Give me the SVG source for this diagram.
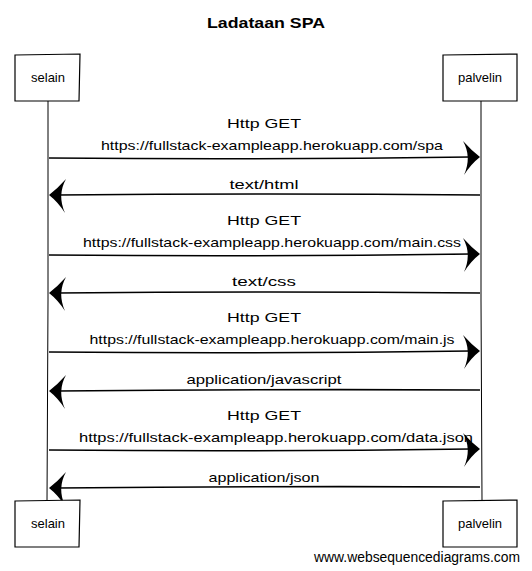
<svg xmlns="http://www.w3.org/2000/svg" width="532" height="571" viewBox="0 0 532 571">
<defs>
<style>
.box{fill:#fff;stroke:#000;stroke-width:1.2}
.life{fill:none;stroke:#000;stroke-width:1}
.msg{fill:none;stroke:#000;stroke-width:1.6}
.head{fill:#000;stroke:none}
.t{font-family:"Liberation Sans",Arial,sans-serif;font-size:13px;fill:#000;text-anchor:middle}
.title{font-family:"Liberation Sans",Arial,sans-serif;font-size:15px;font-weight:bold;fill:#000;text-anchor:middle}
.wm{font-family:"Liberation Sans",Arial,sans-serif;font-size:14px;fill:#000;text-anchor:end}
</style>
<path id="hr" d="M0,0 Q-9,-7 -17,-16 Q-8,0 -16,18 Q-9,7 0,0 Z"/>
<path id="hl" d="M0,0 Q9,-7 17,-16 Q8,0 16,18 Q9,7 0,0 Z"/>
</defs>
<rect width="532" height="571" fill="#fff"/>
<text class="title" x="266" y="28" textLength="118" lengthAdjust="spacingAndGlyphs">Ladataan SPA</text>

<g id="connectors">
<path class="life" d="M48,101 L48,300 L47,501"/>
<path class="life" d="M481,101 L481,300 L482,501"/>
<path class="msg" d="M49,158 Q260,160 470,157"/>
<use class="head" href="#hr" x="480" y="157"/>
<path class="msg" d="M58,195 Q270,193 480,195"/>
<use class="head" href="#hl" x="49" y="195"/>
<path class="msg" d="M49,255 Q260,257 470,254"/>
<use class="head" href="#hr" x="480" y="254"/>
<path class="msg" d="M58,293 Q270,291 480,293"/>
<use class="head" href="#hl" x="49" y="293"/>
<path class="msg" d="M49,352 Q260,354 470,351"/>
<use class="head" href="#hr" x="480" y="351"/>
<path class="msg" d="M58,391 Q270,389 480,390"/>
<use class="head" href="#hl" x="49" y="391"/>
<path class="msg" d="M49,450 Q260,452 470,449"/>
<use class="head" href="#hr" x="480" y="449"/>
<path class="msg" d="M58,488 Q270,486 480,487"/>
<use class="head" href="#hl" x="49" y="488"/>
</g>

<g id="labels">
<text class="t" x="264" y="128" textLength="74" lengthAdjust="spacingAndGlyphs">Http GET</text>
<text class="t" x="272" y="150" textLength="342" lengthAdjust="spacingAndGlyphs">https://fullstack-exampleapp.herokuapp.com/spa</text>
<text class="t" x="264" y="189" textLength="69" lengthAdjust="spacingAndGlyphs">text/html</text>
<text class="t" x="264" y="225" textLength="74" lengthAdjust="spacingAndGlyphs">Http GET</text>
<text class="t" x="272" y="247" textLength="378" lengthAdjust="spacingAndGlyphs">https://fullstack-exampleapp.herokuapp.com/main.css</text>
<text class="t" x="264" y="286" textLength="64" lengthAdjust="spacingAndGlyphs">text/css</text>
<text class="t" x="264" y="322" textLength="74" lengthAdjust="spacingAndGlyphs">Http GET</text>
<text class="t" x="272" y="344" textLength="365" lengthAdjust="spacingAndGlyphs">https://fullstack-exampleapp.herokuapp.com/main.js</text>
<text class="t" x="264" y="384" textLength="155" lengthAdjust="spacingAndGlyphs">application/javascript</text>
<text class="t" x="264" y="420" textLength="74" lengthAdjust="spacingAndGlyphs">Http GET</text>
<text class="t" x="276" y="442" textLength="394" lengthAdjust="spacingAndGlyphs">https://fullstack-exampleapp.herokuapp.com/data.json</text>
<text class="t" x="264" y="482" textLength="111" lengthAdjust="spacingAndGlyphs">application/json</text>
</g>

<g id="selain-top">
<path class="box" d="M15,55 L80,54 L79,101 L15,101 Z"/>
<text class="t" x="48" y="82">selain</text>
</g>
<g id="palvelin-top">
<path class="box" d="M443,55 L517,54 L517,101 L443,101 Z"/>
<text class="t" x="480" y="82">palvelin</text>
</g>
<g id="selain-bottom">
<path class="box" d="M15,501 L80,500 L79,547 L15,547 Z"/>
<text class="t" x="48" y="528">selain</text>
</g>
<g id="palvelin-bottom">
<path class="box" d="M443,501 L517,500 L517,547 L443,547 Z"/>
<text class="t" x="480" y="528">palvelin</text>
</g>

<text class="wm" x="520" y="562" textLength="206" lengthAdjust="spacingAndGlyphs">www.websequencediagrams.com</text>
</svg>
